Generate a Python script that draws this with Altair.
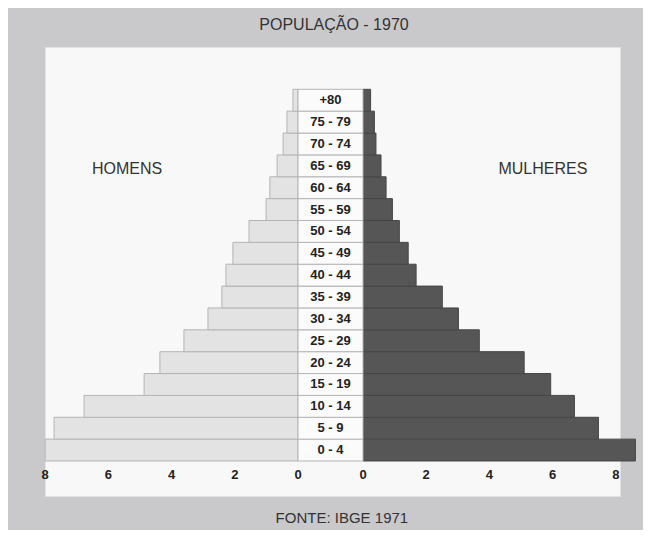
import altair as alt
import pandas as pd

# ---- data (% of population) ----
ages = ["0 - 4", "5 - 9", "10 - 14", "15 - 19", "20 - 24", "25 - 29", "30 - 34",
        "35 - 39", "40 - 44", "45 - 49", "50 - 54", "55 - 59", "60 - 64",
        "65 - 69", "70 - 74", "75 - 79", "+80"]
homens = [8.0, 7.72, 6.77, 4.87, 4.37, 3.61, 2.85, 2.41, 2.28, 2.06, 1.55,
          1.01, 0.89, 0.66, 0.47, 0.35, 0.16]
mulheres = [8.62, 7.45, 6.69, 5.94, 5.10, 3.68, 3.02, 2.51, 1.68, 1.43, 1.15,
            0.93, 0.73, 0.57, 0.41, 0.36, 0.24]
ticks = [0, 2, 4, 6, 8]

title_text = "POPULAÇÃO - 1970"
source_text = "FONTE: IBGE 1971"

# ---- layout constants ----
G = 1.0285          # half width of the central label column, in axis units
FONT = "Liberation Sans"
W, H = 575, 449

df = pd.DataFrame({"idade": ages, "homens": homens, "mulheres": mulheres,
                   "idx": list(range(len(ages)))})
tick_df = pd.DataFrame({"v": ticks})

xs = alt.Scale(domain=[-9.035, 9.161], nice=False, zero=False)
ys = alt.Scale(domain=[-1.601, 18.935], nice=False, zero=False)

base = alt.Chart(df).transform_calculate(
    y0="datum.idx", y1="datum.idx + 1", ym="datum.idx + 0.5",
    hl=f"-({G} + datum.homens)", hr=f"-{G}",
    ml=f"{G}", mr=f"{G} + datum.mulheres", xc="0",
)

men = base.mark_rect(fill="#e3e3e3", stroke="#b4b4b4", strokeWidth=1).encode(
    x=alt.X("hl:Q", scale=xs, axis=None), x2="hr:Q",
    y=alt.Y("y0:Q", scale=ys, axis=None), y2="y1:Q",
)
women = base.mark_rect(fill="#565656", stroke="#464646", strokeWidth=1).encode(
    x=alt.X("ml:Q", scale=xs, axis=None), x2="mr:Q",
    y=alt.Y("y0:Q", scale=ys, axis=None), y2="y1:Q",
)
column = base.mark_rect(fill="#fbfbfb", stroke="#b4b4b4", strokeWidth=1).encode(
    x=alt.X("hr:Q", scale=xs, axis=None), x2="ml:Q",
    y=alt.Y("y0:Q", scale=ys, axis=None), y2="y1:Q",
)
labels = base.mark_text(font=FONT, fontSize=13, fontWeight="bold", color="#222222",
                        baseline="middle").encode(
    x=alt.X("xc:Q", scale=xs, axis=None), y=alt.Y("ym:Q", scale=ys, axis=None),
    text="idade:N",
)

tick_base = alt.Chart(tick_df).transform_calculate(
    xl=f"-({G} + datum.v)", xr=f"{G} + datum.v", yt="-0.64"
)
tick_left = tick_base.mark_text(font=FONT, fontSize=13, fontWeight="bold",
                                color="#222222", baseline="middle").encode(
    x=alt.X("xl:Q", scale=xs, axis=None), y=alt.Y("yt:Q", scale=ys, axis=None),
    text="v:Q",
)
tick_right = tick_base.mark_text(font=FONT, fontSize=13, fontWeight="bold",
                                 color="#222222", baseline="middle").encode(
    x=alt.X("xr:Q", scale=xs, axis=None), y=alt.Y("yt:Q", scale=ys, axis=None),
    text="v:Q",
)


def note(text, x, y, size):
    return alt.Chart(pd.DataFrame({"t": [text]})).transform_calculate(
        nx=str(x), ny=str(y)
    ).mark_text(
        font=FONT, fontSize=size, color="#333333", baseline="middle"
    ).encode(x=alt.X("nx:Q", scale=xs, axis=None),
             y=alt.Y("ny:Q", scale=ys, axis=None), text="t:N")


chart = alt.layer(
    men, women, column, labels, tick_left, tick_right,
    note("HOMENS", -6.44, 13.36, 16),
    note("MULHERES", 6.72, 13.36, 16),
    note(title_text, 0.11, 19.94, 16),
    note(source_text, 0.36, -2.61, 15),
).properties(
    width=W, height=H,
    autosize=alt.AutoSizeParams(type="none"),
    padding={"left": 37, "top": 39, "right": 23, "bottom": 34},
    background="#c9c9cc",
).configure_view(fill="#f8f8f8", stroke="#e2e2e2", strokeWidth=1)

chart.save("out.html", embed_options={"renderer": "svg", "actions": False})
